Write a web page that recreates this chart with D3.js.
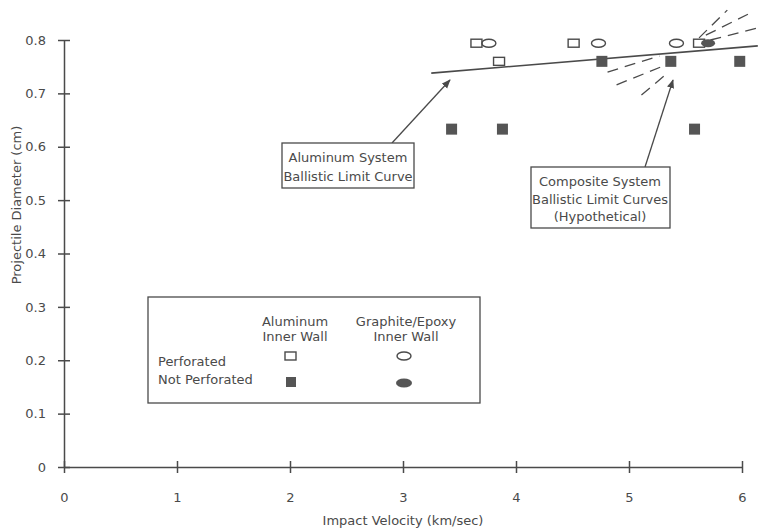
<!DOCTYPE html>
<html>
<head>
<meta charset="utf-8">
<script src="https://cdn.jsdelivr.net/npm/d3@7"></script>
<style>
  body { margin: 0; background: #fff; }
  text { font-family: "DejaVu Sans", sans-serif; fill: #4a4a4a; }
</style>
</head>
<body>
<div id="chart"></div>
<script>
// Data
var xTicks = [0, 1, 2, 3, 4, 5, 6];
var yTicks = [0, 0.1, 0.2, 0.3, 0.4, 0.5, 0.6, 0.7, 0.8];

// aluminum inner wall
var alPerforated = [[3.65, 0.794], [3.85, 0.76], [4.51, 0.794], [5.62, 0.794]];
var alNotPerforated = [[3.43, 0.633], [3.88, 0.633], [4.76, 0.76], [5.37, 0.76], [5.98, 0.76], [5.58, 0.633]];
// graphite/epoxy inner wall
var gePerforated = [[3.76, 0.794], [4.73, 0.794], [5.42, 0.794]];
var geNotPerforated = [[5.70, 0.794]];

// ballistic limit curves
var aluminumCurve = [[3.25, 0.738], [6.14, 0.789]];
var compositeCurves = [
  [[4.81, 0.740], [5.27, 0.770]], [[5.72, 0.800], [6.13, 0.822]],
  [[4.89, 0.716], [5.30, 0.751]], [[5.68, 0.809], [6.06, 0.849]],
  [[5.11, 0.697], [5.33, 0.736]], [[5.62, 0.804], [5.87, 0.856]]
];

var width = 759, height = 532;
var ink = "#4a4a4a";
var fs = 13;

var svg = d3.select("#chart").append("svg")
    .attr("width", width).attr("height", height);

var x = d3.scaleLinear().domain([0, 6]).range([64, 742]);
var y = d3.scaleLinear().domain([0, 0.8]).range([467, 40]);

// axes
var xAxis = svg.append("g")
    .attr("transform", "translate(0," + y(0) + ")")
    .call(d3.axisBottom(x).tickValues(xTicks).tickFormat(d3.format("d")).tickSize(6).tickPadding(20).tickSizeOuter(0));
var yAxis = svg.append("g")
    .attr("transform", "translate(" + x(0) + ",0)")
    .call(d3.axisLeft(y).tickValues(yTicks).tickFormat(function(d) { return d === 0 ? "0" : d3.format(".1f")(d); })
      .tickSize(6).tickPadding(12).tickSizeOuter(0));

[xAxis, yAxis].forEach(function(a) {
  a.select(".domain").attr("stroke", ink).attr("stroke-width", 1.5);
  a.selectAll(".tick text").attr("font-size", fs).attr("fill", ink).style("font-family", "'DejaVu Sans', sans-serif");
});
xAxis.selectAll(".tick line").attr("y1", -6).attr("y2", 6).attr("stroke", ink).attr("stroke-width", 1.5);
yAxis.selectAll(".tick line").attr("x1", -6).attr("x2", 6).attr("stroke", ink).attr("stroke-width", 1.5);

svg.append("text").attr("x", 403).attr("y", 525).attr("text-anchor", "middle")
    .attr("font-size", fs).text("Impact Velocity (km/sec)");
svg.append("text").attr("transform", "translate(21,205) rotate(-90)").attr("text-anchor", "middle")
    .attr("font-size", fs).text("Projectile Diameter (cm)");

// curves
var line = d3.line().x(function(d) { return x(d[0]); }).y(function(d) { return y(d[1]); });
svg.append("path").attr("d", line(aluminumCurve))
    .attr("fill", "none").attr("stroke", ink).attr("stroke-width", 1.6);
svg.selectAll(".comp").data(compositeCurves).enter().append("path")
    .attr("class", "comp").attr("d", line)
    .attr("fill", "none").attr("stroke", ink).attr("stroke-width", 1.3)
    .attr("stroke-dasharray", "11,7");

// markers
function openSquare(sel) {
  sel.attr("width", 11).attr("height", 8).attr("fill", "#fff").attr("stroke", ink).attr("stroke-width", 1.4);
}
svg.selectAll(".alp").data(alPerforated).enter().append("rect").attr("class", "alp")
    .attr("x", function(d) { return x(d[0]) - 5.5; }).attr("y", function(d) { return y(d[1]) - 4; })
    .call(openSquare);
svg.selectAll(".aln").data(alNotPerforated).enter().append("rect").attr("class", "aln")
    .attr("x", function(d) { return x(d[0]) - 5.5; }).attr("y", function(d) { return y(d[1]) - 5.5; })
    .attr("width", 11).attr("height", 11).attr("fill", "#555");
svg.selectAll(".gep").data(gePerforated).enter().append("ellipse").attr("class", "gep")
    .attr("cx", function(d) { return x(d[0]); }).attr("cy", function(d) { return y(d[1]); })
    .attr("rx", 7).attr("ry", 4).attr("fill", "none").attr("stroke", ink).attr("stroke-width", 1.4);
svg.selectAll(".gen").data(geNotPerforated).enter().append("ellipse").attr("class", "gen")
    .attr("cx", function(d) { return x(d[0]); }).attr("cy", function(d) { return y(d[1]); })
    .attr("rx", 7).attr("ry", 4).attr("fill", "#555");

// annotations
var defs = svg.append("defs");
defs.append("marker").attr("id", "arrow").attr("viewBox", "0 0 10 10")
    .attr("refX", 9).attr("refY", 5).attr("markerWidth", 9).attr("markerHeight", 9)
    .attr("orient", "auto").attr("markerUnits", "userSpaceOnUse")
  .append("path").attr("d", "M0,1 L10,5 L0,9 Z").attr("fill", ink);

svg.append("line").attr("x1", 392).attr("y1", 143).attr("x2", 450).attr("y2", 80)
    .attr("stroke", ink).attr("stroke-width", 1.3).attr("marker-end", "url(#arrow)");
svg.append("line").attr("x1", 645).attr("y1", 167).attr("x2", 673).attr("y2", 80)
    .attr("stroke", ink).attr("stroke-width", 1.3).attr("marker-end", "url(#arrow)");

svg.append("rect").attr("x", 282).attr("y", 143).attr("width", 132).attr("height", 45)
    .attr("fill", "#fff").attr("stroke", ink).attr("stroke-width", 1.3);
svg.append("text").attr("x", 348).attr("y", 162).attr("text-anchor", "middle").attr("font-size", fs).text("Aluminum System");
svg.append("text").attr("x", 348).attr("y", 181).attr("text-anchor", "middle").attr("font-size", fs).text("Ballistic Limit Curve");

svg.append("rect").attr("x", 531).attr("y", 167).attr("width", 139).attr("height", 61)
    .attr("fill", "#fff").attr("stroke", ink).attr("stroke-width", 1.3);
svg.append("text").attr("x", 600).attr("y", 186).attr("text-anchor", "middle").attr("font-size", fs).text("Composite System");
svg.append("text").attr("x", 600).attr("y", 204).attr("text-anchor", "middle").attr("font-size", fs).text("Ballistic Limit Curves");
svg.append("text").attr("x", 600).attr("y", 221).attr("text-anchor", "middle").attr("font-size", fs).text("(Hypothetical)");

// legend
var lg = svg.append("g");
lg.append("rect").attr("x", 148).attr("y", 297).attr("width", 332).attr("height", 106)
    .attr("fill", "#fff").attr("stroke", ink).attr("stroke-width", 1.3);
lg.append("text").attr("x", 295).attr("y", 326).attr("text-anchor", "middle").attr("font-size", fs).text("Aluminum");
lg.append("text").attr("x", 295).attr("y", 341).attr("text-anchor", "middle").attr("font-size", fs).text("Inner Wall");
lg.append("text").attr("x", 406).attr("y", 326).attr("text-anchor", "middle").attr("font-size", fs).text("Graphite/Epoxy");
lg.append("text").attr("x", 406).attr("y", 341).attr("text-anchor", "middle").attr("font-size", fs).text("Inner Wall");
lg.append("text").attr("x", 158).attr("y", 366).attr("font-size", fs).text("Perforated");
lg.append("text").attr("x", 158).attr("y", 384).attr("font-size", fs).text("Not Perforated");
lg.append("rect").attr("x", 285).attr("y", 352).attr("width", 11).attr("height", 8).call(openSquare);
lg.append("rect").attr("x", 286).attr("y", 377).attr("width", 10).attr("height", 10).attr("fill", "#555");
lg.append("ellipse").attr("cx", 404).attr("cy", 356).attr("rx", 7).attr("ry", 4)
    .attr("fill", "none").attr("stroke", ink).attr("stroke-width", 1.4);
lg.append("ellipse").attr("cx", 404).attr("cy", 383).attr("rx", 8).attr("ry", 4.5).attr("fill", "#555");
</script>
</body>
</html>
